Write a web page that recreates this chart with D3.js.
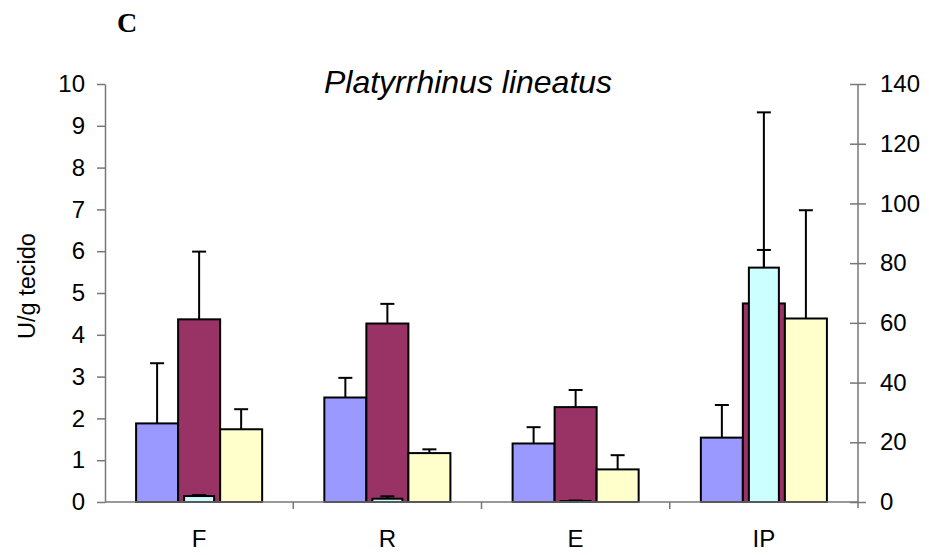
<!DOCTYPE html>
<html>
<head>
<meta charset="utf-8">
<script src="https://cdn.jsdelivr.net/npm/d3@7"></script>
<style>
  body { margin: 0; background: #fff; }
  svg { display: block; }
  text { font-family: "Liberation Sans", Arial, sans-serif; fill: #000; }
</style>
</head>
<body>
<svg id="chart" width="929" height="555"></svg>
<script>
// ---- data ----
const categories = ["F", "R", "E", "IP"];
const leftSeries = ["s1", "s2", "s4"];
const blueValues   = [1.88, 2.50, 1.40, 1.54];
const blueErrors   = [1.44, 0.47, 0.39, 0.78];
const maroonValues = [4.37, 4.27, 2.27, 4.75];
const maroonErrors = [1.62, 0.47, 0.41, 1.28];
const yellowValues = [1.74, 1.17, 0.78, 4.39];
const yellowErrors = [0.48, 0.09, 0.34, 2.59];
const cyanValues   = [2.0, 1.1, 0.3, 78.5];   // right axis
const cyanErrors   = [0.3, 0.8, 0.2, 52.0];
const leftTicks  = [0,1,2,3,4,5,6,7,8,9,10];
const rightTicks = [0,20,40,60,80,100,120,140];
const titleText = "Platyrrhinus lineatus";
const yLabel = "U/g tecido";
const panelLabel = "C";

const colors = { s1: "#9999FF", s2: "#993366", s4: "#FFFFCC", s3: "#CCFFFF" };

const svg = d3.select("#chart");
const L = 105, R = 858, T = 84, B = 502;

const x0 = d3.scaleBand().domain(categories).range([L, R]).paddingInner(0).paddingOuter(0);
const x1 = d3.scaleBand().domain(leftSeries).range([0, x0.bandwidth()]).paddingInner(0).paddingOuter(0.74);
const yL = d3.scaleLinear().domain([0, 10]).range([B, T]);
const yR = d3.scaleLinear().domain([0, 140]).range([B, T]);

const leftData = [
  { key: "s1", vals: blueValues, errs: blueErrors },
  { key: "s2", vals: maroonValues, errs: maroonErrors },
  { key: "s4", vals: yellowValues, errs: yellowErrors }
];

const capW = 14;
const plot = svg.append("g");

// left-axis bars
leftData.forEach(s => {
  const g = plot.append("g");
  s.vals.forEach((v, i) => {
    const c = categories[i];
    const x = x0(c) + x1(s.key);
    const w = x1.bandwidth();
    const cx = x + w / 2;
    g.append("line").attr("x1", cx).attr("x2", cx)
      .attr("y1", yL(v)).attr("y2", yL(v + s.errs[i]))
      .attr("stroke", "#000").attr("stroke-width", 2);
    g.append("line").attr("x1", cx - capW/2).attr("x2", cx + capW/2)
      .attr("y1", yL(v + s.errs[i])).attr("y2", yL(v + s.errs[i]))
      .attr("stroke", "#000").attr("stroke-width", 2);
    g.append("rect").attr("x", x).attr("y", yL(v))
      .attr("width", w).attr("height", B - yL(v))
      .attr("fill", colors[s.key]).attr("stroke", "#000").attr("stroke-width", 2);
  });
});

// right-axis bars (cyan) drawn on top
const cw = 30;
cyanValues.forEach((v, i) => {
  const cx = x0(categories[i]) + x0.bandwidth() / 2;
  plot.append("line").attr("x1", cx).attr("x2", cx)
    .attr("y1", yR(v)).attr("y2", yR(v + cyanErrors[i]))
    .attr("stroke", "#000").attr("stroke-width", 2);
  plot.append("line").attr("x1", cx - capW/2).attr("x2", cx + capW/2)
    .attr("y1", yR(v + cyanErrors[i])).attr("y2", yR(v + cyanErrors[i]))
    .attr("stroke", "#000").attr("stroke-width", 2);
  plot.append("rect").attr("x", cx - cw/2).attr("y", yR(v))
    .attr("width", cw).attr("height", B - yR(v))
    .attr("fill", colors.s3).attr("stroke", "#000").attr("stroke-width", 2);
});

// axes
const axisColor = "#777";
const tickFont = "24px";
const gL = svg.append("g").attr("transform", `translate(${L},0)`)
  .call(d3.axisLeft(yL).tickValues(leftTicks).tickSize(8).tickSizeOuter(0).tickPadding(12));
const gR = svg.append("g").attr("transform", `translate(${R},0)`)
  .call(d3.axisRight(yR).tickValues(rightTicks).tickSize(8).tickSizeOuter(0).tickPadding(14));
gR.selectAll(".tick line").attr("x1", -8);
gR.select(".domain").attr("d", `M0,${T}V${B + 6}`);

const gX = svg.append("g").attr("transform", `translate(0,${B})`);
gX.append("line").attr("x1", L).attr("x2", R).attr("y1", 0).attr("y2", 0)
  .attr("stroke", axisColor).attr("stroke-width", 1.5);
x0.domain().slice(1).forEach(c => {
  gX.append("line").attr("x1", x0(c)).attr("x2", x0(c)).attr("y1", 0).attr("y2", 7)
    .attr("stroke", axisColor).attr("stroke-width", 1.5);
});
gX.selectAll("text.cat").data(categories).enter().append("text")
  .attr("class", "cat")
  .attr("x", d => x0(d) + x0.bandwidth() / 2)
  .attr("y", 45)
  .attr("text-anchor", "middle")
  .style("font-size", tickFont)
  .text(d => d);

[gL, gR].forEach(g => {
  g.selectAll(".domain").attr("stroke", axisColor).attr("stroke-width", 1.5);
  g.selectAll(".tick line").attr("stroke", axisColor).attr("stroke-width", 1.5);
  g.selectAll(".tick text").style("font-size", tickFont)
    .style("font-family", '"Liberation Sans", Arial, sans-serif').attr("fill", "#000");
});

// title
svg.append("text").attr("x", 468).attr("y", 93).attr("text-anchor", "middle")
  .style("font-size", "32px").style("font-style", "italic").text(titleText);

// y label
svg.append("text").attr("transform", "translate(35,286) rotate(-90)")
  .attr("text-anchor", "middle").style("font-size", "23.5px").text(yLabel);

// panel letter
svg.append("text").attr("x", 117).attr("y", 32)
  .style("font-family", '"Liberation Serif", "Times New Roman", serif')
  .style("font-weight", "bold").style("font-size", "28px").text(panelLabel);
</script>
</body>
</html>
